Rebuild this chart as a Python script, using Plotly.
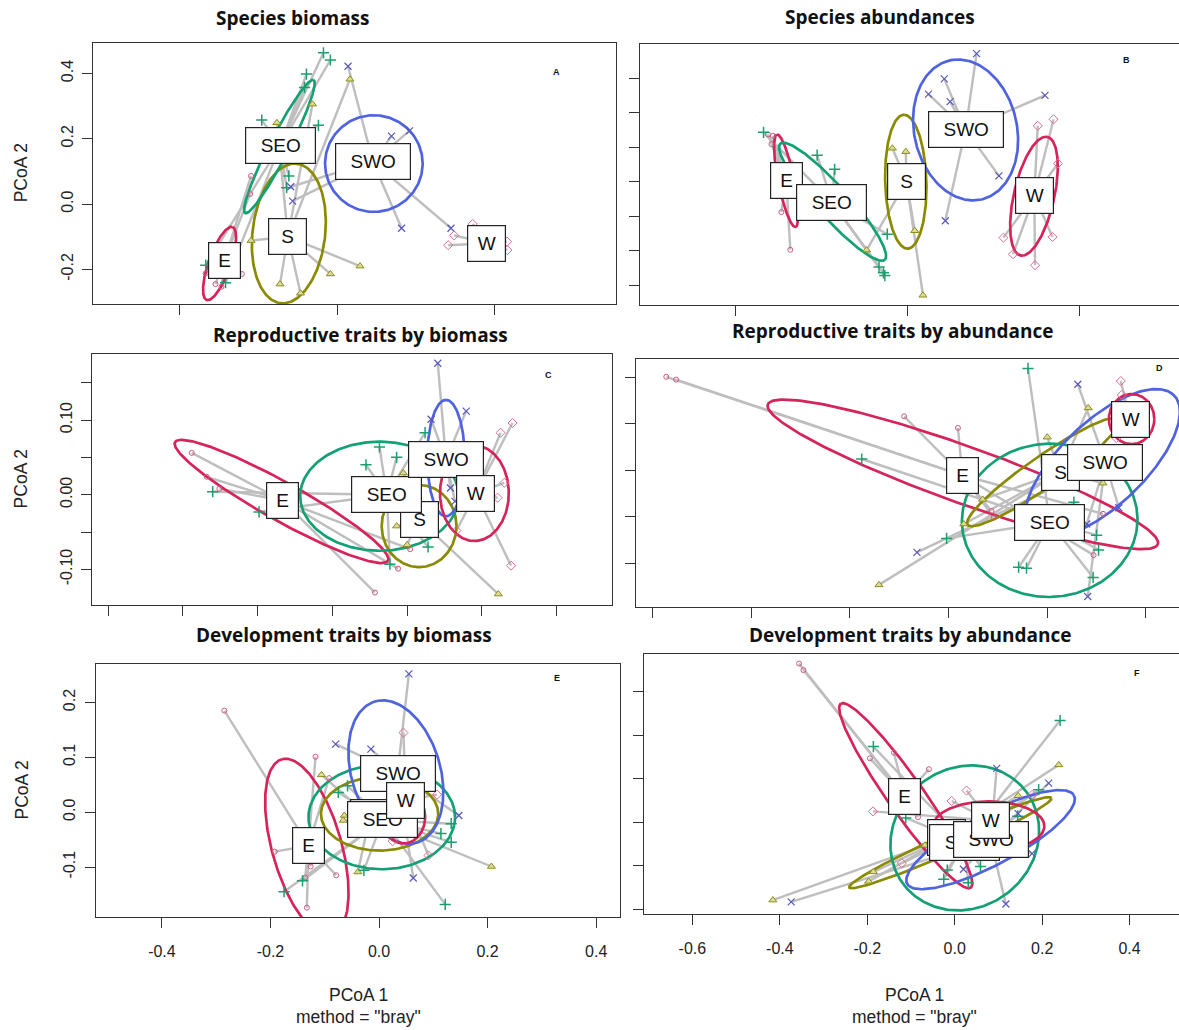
import numpy as np
import plotly.graph_objects as go

FIG_W, FIG_H = 1179, 1030
GROUPS = ["E", "S", "SEO", "SWO", "W"]

# ---------------- Panel A : Species biomass ----------------
A_pts = {
    "E":   [(-0.273, 0.086), (-0.276, 0.031), (-0.417, -0.212), (-0.386, -0.245), (-0.302, -0.214), (-0.367, -0.253)],
    "S":   [(0.041, 0.382), (-0.078, 0.306), (-0.191, 0.249), (-0.273, -0.112), (-0.181, -0.245), (-0.116, -0.273), (-0.021, -0.214), (0.073, -0.190)],
    "SEO": [(-0.043, 0.463), (-0.021, 0.441), (-0.097, 0.398), (-0.103, 0.357), (-0.239, 0.257), (-0.059, 0.241), (-0.153, 0.086), (-0.160, 0.050), (-0.417, -0.187), (-0.354, -0.241)],
    "SWO": [(0.035, 0.422), (0.173, 0.208), (0.230, 0.224), (-0.147, 0.053), (-0.141, 0.009), (0.205, -0.074), (0.362, -0.074)],
    "W":   [(0.431, -0.061), (0.372, -0.096), (0.353, -0.126), (0.540, -0.115), (0.541, -0.141)],
}
A_lab = {"E": (-0.358, -0.174), "S": (-0.156, -0.100), "SEO": (-0.181, 0.178), "SWO": (0.114, 0.130), "W": (0.476, -0.120)}
A_ell = {  # cx, cy, ux, uy, vx, vy
    "E":   (-0.373, -0.182, 0.040, 0.112, 0.034, -0.008),
    "S":   (-0.153, -0.090, 0.019, 0.214, 0.116, 0.0),
    "SEO": (-0.183, 0.176, 0.108, 0.204, 0.030, -0.010),
    "SWO": (0.117, 0.124, 0.155, 0.0, 0.0, 0.148),
}

# ---------------- Panel B : Species abundances ----------------
B_pts = {
    "E":   [(-0.405, 0.137), (-0.391, 0.133), (-0.395, 0.109), (-0.365, -0.015), (-0.366, -0.088), (-0.340, -0.197)],
    "S":   [(-0.043, 0.097), (-0.004, 0.087), (0.022, -0.142), (-0.118, -0.198), (0.046, -0.329)],
    "SEO": [(-0.418, 0.143), (-0.262, 0.077), (-0.211, 0.036), (-0.058, -0.152), (-0.082, -0.247), (-0.069, -0.264), (-0.065, -0.272)],
    "SWO": [(0.202, 0.371), (0.108, 0.298), (0.062, 0.254), (0.125, 0.232), (0.401, 0.250), (0.267, 0.017), (0.111, -0.113)],
    "W":   [(0.380, 0.162), (0.426, 0.181), (0.439, 0.053), (0.280, -0.162), (0.308, -0.210), (0.372, -0.242), (0.423, -0.160)],
}
B_lab = {"E": (-0.352, 0.003), "S": (-0.002, 0.001), "SEO": (-0.219, -0.059), "SWO": (0.170, 0.151), "W": (0.370, -0.040)}
B_ell = {
    "E":   (-0.352, 0.003, -0.027, 0.134, 0.023, 0.004),
    "S":   (-0.004, 0.0, -0.005, 0.194, 0.060, 0.0),
    "SEO": (-0.217, -0.058, 0.151, -0.169, 0.038, 0.027),
    "SWO": (0.170, 0.150, -0.038, 0.203, 0.148, 0.022),
    "W":   (0.369, -0.042, 0.038, 0.172, 0.058, -0.010),
}

# ---------------- Panel C : Reproductive traits by biomass ----------------
C_pts = {
    "E":   [(-0.188, 0.056), (-0.168, 0.024), (-0.151, 0.008), (0.057, -0.131), (0.088, -0.099), (0.104, -0.073)],
    "S":   [(0.222, -0.133), (0.086, -0.042), (0.095, 0.029), (0.100, -0.067)],
    "SEO": [(-0.160, 0.004), (-0.098, -0.023), (0.063, 0.064), (0.086, 0.050), (0.045, 0.040), (0.124, 0.083), (0.077, -0.093), (0.128, -0.070)],
    "SWO": [(0.141, 0.176), (0.179, 0.112), (0.132, 0.101), (0.158, 0.009), (0.164, -0.009)],
    "W":   [(0.225, 0.083), (0.241, 0.096), (0.230, 0.016), (0.221, -0.004), (0.239, -0.095), (0.166, -0.048)],
}
C_lab = {"E": (-0.066, -0.008), "S": (0.116, -0.033), "SEO": (0.073, 0.0), "SWO": (0.152, 0.047), "W": (0.192, 0.002)}
C_ell = {
    "E":   (-0.068, -0.009, 0.142, -0.080, 0.0162, 0.0203),
    "S":   (0.116, -0.042, 0.0, 0.055, 0.050, 0.0),
    "SEO": (0.063, -0.002, 0.106, 0.0, 0.0, 0.073),
    "SWO": (0.152, 0.049, 0.0, 0.078, 0.025, 0.0),
    "W":   (0.190, 0.002, 0.0, 0.064, 0.046, 0.0),
}

# ---------------- Panel D : Reproductive traits by abundance ----------------
D_pts = {
    "E":   [(-0.572, 0.201), (-0.552, 0.195), (-0.090, 0.116), (0.019, 0.091), (0.087, -0.088), (0.092, -0.102), (0.294, -0.183), (0.313, -0.094)],
    "S":   [(0.283, 0.134), (0.200, 0.071), (0.069, -0.063), (0.031, -0.116), (0.313, -0.028), (-0.141, -0.247)],
    "SEO": [(0.161, 0.219), (-0.176, 0.024), (-0.004, -0.147), (0.142, -0.209), (0.158, -0.211), (0.254, -0.069), (0.300, -0.140), (0.304, -0.172), (0.293, -0.231)],
    "SWO": [(0.262, 0.185), (-0.064, -0.177), (0.282, -0.272), (0.345, -0.081), (0.280, -0.116)],
    "W":   [(0.349, 0.192), (0.351, 0.162), (0.340, 0.069), (0.401, 0.085)],
}
D_lab = {"E": (0.028, -0.011), "S": (0.226, -0.004), "SEO": (0.205, -0.112), "SWO": (0.318, 0.016), "W": (0.368, 0.109)}
D_ell = {
    "E":   (0.029, -0.009, 0.395, -0.151, 0.0235, 0.056),
    "S":   (0.192, -0.004, 0.153, 0.114, 0.0207, -0.0254),
    "SEO": (0.205, -0.108, -0.026, 0.163, 0.176, 0.026),
    "SWO": (0.312, 0.014, 0.142, 0.150, 0.0665, -0.0575),
    "W":   (0.371, 0.110, 0.046, 0.0, 0.0, 0.054),
}

# ---------------- Panel E : Development traits by biomass ----------------
E_pts = {
    "E":   [(-0.285, 0.185), (-0.117, 0.101), (-0.092, 0.062), (-0.192, -0.072), (-0.126, -0.099), (-0.136, -0.119), (-0.079, -0.115), (-0.133, -0.174)],
    "S":   [(-0.106, 0.068), (-0.064, -0.006), (-0.066, -0.015), (0.207, -0.099), (-0.039, -0.109)],
    "SEO": [(-0.058, 0.048), (-0.075, 0.036), (0.133, -0.021), (0.114, -0.039), (0.133, -0.055), (-0.141, -0.125), (-0.175, -0.145), (0.122, -0.168), (-0.028, -0.106)],
    "SWO": [(0.055, 0.252), (-0.080, 0.124), (-0.015, 0.115), (0.147, -0.006), (0.063, -0.120)],
    "W":   [(0.045, 0.145), (0.107, 0.032), (0.091, -0.079), (0.025, -0.053)],
}
E_lab = {"E": (-0.130, -0.061), "S": (-0.017, -0.009), "SEO": (0.007, -0.014), "SWO": (0.034, 0.071), "W": (0.049, 0.022)}
E_ell = {
    "E":   (-0.133, -0.064, -0.044, 0.161, 0.063, 0.012),
    "S":   (0.001, -0.003, 0.108, 0.0, 0.0, 0.067),
    "SEO": (0.005, -0.009, 0.135, 0.0, 0.0, 0.095),
    "SWO": (0.031, 0.073, -0.033, 0.130, 0.081, 0.014),
    "W":   (0.045, -0.009, 0.040, 0.0, 0.0, 0.048),
}

# ---------------- Panel F : Development traits by abundance ----------------
F_pts = {
    "E":   [(-0.356, 0.365), (-0.346, 0.350), (-0.194, 0.147), (-0.139, 0.160), (-0.059, 0.122), (-0.084, 0.012)],
    "S":   [(0.238, 0.132), (0.145, 0.061), (-0.068, -0.053), (-0.186, -0.114), (-0.197, -0.136), (-0.416, -0.179)],
    "SEO": [(-0.186, 0.174), (0.241, 0.234), (-0.112, 0.010), (0.144, 0.014), (-0.017, -0.110), (-0.025, -0.131), (0.031, -0.139), (0.059, -0.102), (0.192, 0.075)],
    "SWO": [(0.215, 0.090), (0.096, 0.124), (0.020, -0.108), (0.177, -0.072), (0.117, -0.188), (-0.374, -0.183), (0.145, 0.020)],
    "W":   [(-0.187, 0.025), (0.027, 0.073), (-0.007, 0.049), (0.177, 0.063), (-0.121, -0.094)],
}
F_lab = {"E": (-0.114, 0.060), "S": (-0.019, -0.036), "SEO": (0.023, -0.046), "SWO": (0.082, -0.040), "W": (0.081, 0.004)}
F_ell = {
    "E":   (-0.112, 0.061, -0.148, 0.212, 0.0357, 0.0203),
    "S":   (-0.010, -0.047, 0.231, 0.103, 0.0105, -0.0191),
    "SEO": (0.023, -0.036, 0.063, 0.160, 0.158, -0.047),
    "SWO": (0.082, -0.040, 0.190, 0.103, 0.0326, -0.0489),
    "W":   (0.078, -0.009, 0.127, 0.0, 0.0, 0.057),
}

# ---------------- styles ----------------
ELL_COL = {"E": "#D6245A", "S": "#8A8A00", "SEO": "#13A074", "SWO": "#4F62E0", "W": "#D6245A"}
MARK = {
    "E":   dict(symbol="circle-open", size=5, color="#CC5C7E", line=dict(width=1, color="#CC5C7E")),
    "S":   dict(symbol="triangle-up", size=7, color="#DCDC98", line=dict(width=1, color="#8C8C1E")),
    "SEO": dict(symbol="cross-thin", size=8, color="#1E9E6E", line=dict(width=1.5, color="#1E9E6E")),
    "SWO": dict(symbol="x-thin", size=7, color="#5858BE", line=dict(width=1.2, color="#5858BE")),
    "W":   dict(symbol="diamond-open", size=7, color="#DC6E8E", line=dict(width=1, color="#DC6E8E")),
}
LAB_W = {"E": 31, "S": 37, "SEO": 69, "SWO": 74, "W": 37}
SPIDER = "#BEBEBE"
TICKF = dict(family="Liberation Sans, Arial, sans-serif", size=16, color="#222")


def fmt(v, nd):
    return f"{v:.{nd}f}"


PANELS = [
    dict(key="A", pts=A_pts, lab=A_lab, ell=A_ell, title="Species biomass", title_xy=(293, 18), letter_xy=(556, 72),
         box=(93.3, 616.0, 42.7, 304.0), xr=(-0.774, 0.886), yr=(-0.306, 0.494),
         xt=[-0.5, 0.0, 0.5], xlab=False, yt=[-0.2, 0.0, 0.2, 0.4], ylab=[fmt(v, 1) for v in [-0.2, 0.0, 0.2, 0.4]], right=True),
    dict(key="B", pts=B_pts, lab=B_lab, ell=B_ell, title="Species abundances", title_xy=(880, 17), letter_xy=(1126, 60),
         box=(639.8, 1179.0, 44.0, 305.3), xr=(-0.778, 0.791), yr=(-0.358, 0.399),
         xt=[-0.5, 0.0, 0.5], xlab=False, yt=[-0.3, -0.2, -0.1, 0.0, 0.1, 0.2, 0.3], ylab=None, right=False),
    dict(key="C", pts=C_pts, lab=C_lab, ell=C_ell, title="Reproductive traits by biomass", title_xy=(360, 335), letter_xy=(548, 375),
         box=(92.3, 612.0, 354.3, 604.5), xr=(-0.321, 0.374), yr=(-0.147, 0.188),
         xt=[-0.3, -0.2, -0.1, 0.0, 0.1, 0.2, 0.3], xlab=False, yt=[-0.10, -0.05, 0.0, 0.05, 0.10, 0.15],
         ylab=["-0.10", "", "0.00", "", "0.10", ""], right=True),
    dict(key="D", pts=D_pts, lab=D_lab, ell=D_ell, title="Reproductive traits by abundance", title_xy=(892, 331), letter_xy=(1159, 368),
         box=(635.7, 1179.0, 358.7, 606.7), xr=(-0.634, 0.467), yr=(-0.294, 0.240),
         xt=[-0.6, -0.4, -0.2, 0.0, 0.2, 0.4], xlab=False, yt=[-0.2, -0.1, 0.0, 0.1, 0.2], ylab=None, right=False),
    dict(key="E", pts=E_pts, lab=E_lab, ell=E_ell, title="Development traits by biomass", title_xy=(344, 635), letter_xy=(557, 678),
         box=(95.7, 619.5, 664.0, 917.0), xr=(-0.522, 0.443), yr=(-0.191, 0.270),
         xt=[-0.4, -0.2, 0.0, 0.2, 0.4], xlab=True, yt=[-0.1, 0.0, 0.1, 0.2], ylab=[fmt(v, 1) for v in [-0.1, 0.0, 0.1, 0.2]], right=True),
    dict(key="F", pts=F_pts, lab=F_lab, ell=F_ell, title="Development traits by abundance", title_xy=(910, 635), letter_xy=(1137, 673),
         box=(644.3, 1179.0, 654.0, 914.0), xr=(-0.710, 0.513), yr=(-0.211, 0.387),
         xt=[-0.6, -0.4, -0.2, 0.0, 0.2, 0.4], xlab=True, yt=[-0.2, -0.1, 0.0, 0.1, 0.2, 0.3], ylab=None, right=False),
]


def ellipse_xy(p, n=241):
    cx, cy, ux, uy, vx, vy = p
    t = np.linspace(0, 2 * np.pi, n)
    return cx + ux * np.cos(t) + vx * np.sin(t), cy + uy * np.cos(t) + vy * np.sin(t)


fig = go.Figure()
annotations = []
layout = {}

for i, P in enumerate(PANELS, start=1):
    xa, ya = f"x{i}", f"y{i}"
    xl, yl = ("xaxis" if i == 1 else f"xaxis{i}"), ("yaxis" if i == 1 else f"yaxis{i}")
    x0, x1, y0, y1 = P["box"]

    # spider lines from each point to its group centroid
    sx, sy = [], []
    for g in GROUPS:
        cx, cy = P["lab"][g]
        for (px, py) in P["pts"][g]:
            sx += [px, cx, None]
            sy += [py, cy, None]
    fig.add_trace(go.Scatter(x=sx, y=sy, mode="lines", xaxis=xa, yaxis=ya,
                             line=dict(color=SPIDER, width=2.4), hoverinfo="skip", showlegend=False))
    # ellipses
    for g in GROUPS:
        if g in P["ell"]:
            ex, ey = ellipse_xy(P["ell"][g])
            fig.add_trace(go.Scatter(x=ex, y=ey, mode="lines", xaxis=xa, yaxis=ya,
                                     line=dict(color=ELL_COL[g], width=2.7), hoverinfo="skip", showlegend=False))
    # points
    for g in GROUPS:
        pts = P["pts"][g]
        fig.add_trace(go.Scatter(x=[p[0] for p in pts], y=[p[1] for p in pts], mode="markers",
                                 xaxis=xa, yaxis=ya, marker=MARK[g], name=g, showlegend=False))
    # group labels (boxes) at centroids
    for g in GROUPS:
        cx, cy = P["lab"][g]
        annotations.append(dict(x=cx, y=cy, xref=xa, yref=ya, text=g, showarrow=False,
                                font=dict(family="Liberation Sans, Arial, sans-serif", size=19, color="#111"),
                                bgcolor="white", bordercolor="#222", borderwidth=1.2, borderpad=0,
                                width=LAB_W[g], height=35, align="center", valign="middle"))

    layout[xl] = dict(domain=[x0 / FIG_W, x1 / FIG_W], range=list(P["xr"]), anchor=ya,
                      showgrid=False, zeroline=False, showline=True, mirror=True,
                      linecolor="#333", linewidth=1.3, ticks="outside", ticklen=10, tickwidth=1.3,
                      tickcolor="#333", tickvals=P["xt"],
                      ticktext=[fmt(v, 1) for v in P["xt"]] if P["xlab"] else [""] * len(P["xt"]),
                      showticklabels=P["xlab"], tickfont=TICKF, ticklabelstandoff=10)
    layout[yl] = dict(domain=[1 - y1 / FIG_H, 1 - y0 / FIG_H], range=list(P["yr"]), anchor=xa,
                      showgrid=False, zeroline=False, showline=True, mirror=P["right"],
                      linecolor="#333", linewidth=1.3, ticks="outside", ticklen=10, tickwidth=1.3,
                      tickcolor="#333", tickvals=P["yt"],
                      ticktext=P["ylab"] if P["ylab"] else [""] * len(P["yt"]),
                      showticklabels=P["ylab"] is not None, tickangle=-90, tickfont=TICKF,
                      ticklabelstandoff=3)

    # panel title
    tx, ty = P["title_xy"]
    annotations.append(dict(x=tx / FIG_W, y=1 - ty / FIG_H, xref="paper", yref="paper", text=P["title"],
                            showarrow=False, xanchor="center", yanchor="middle",
                            font=dict(family="Open Sans, Lato, sans-serif", size=19, color="#111", weight="bold")))
    # panel letter
    lx, ly = P["letter_xy"]
    annotations.append(dict(x=lx / FIG_W, y=1 - ly / FIG_H, xref="paper", yref="paper", text=P["key"],
                            showarrow=False, xanchor="center", yanchor="middle",
                            font=dict(family="Liberation Sans, Arial, sans-serif", size=9, color="#111", weight="bold")))
    # y axis title on left panels
    if P["ylab"] is not None:
        annotations.append(dict(x=21 / FIG_W, y=1 - ((y0 + y1) / 2) / FIG_H, xref="paper", yref="paper",
                                text="PCoA 2", textangle=-90, showarrow=False, xanchor="center", yanchor="middle",
                                font=dict(family="Liberation Sans, Arial, sans-serif", size=17.5, color="#222")))
    # x axis titles on bottom panels
    if P["xlab"]:
        cxp = 358 if P["key"] == "E" else 914.5
        annotations.append(dict(x=cxp / FIG_W, y=1 - 995 / FIG_H, xref="paper", yref="paper", text="PCoA 1",
                                showarrow=False, xanchor="center", yanchor="middle",
                                font=dict(family="Liberation Sans, Arial, sans-serif", size=17.5, color="#222")))
        annotations.append(dict(x=cxp / FIG_W, y=1 - 1017 / FIG_H, xref="paper", yref="paper",
                                text='method = "bray"', showarrow=False, xanchor="center", yanchor="middle",
                                font=dict(family="Liberation Sans, Arial, sans-serif", size=17.5, color="#222")))

fig.update_layout(width=FIG_W, height=FIG_H, margin=dict(l=0, r=0, t=0, b=0),
                  paper_bgcolor="white", plot_bgcolor="white", showlegend=False,
                  annotations=annotations, **layout)

fig.write_html("out.html")
